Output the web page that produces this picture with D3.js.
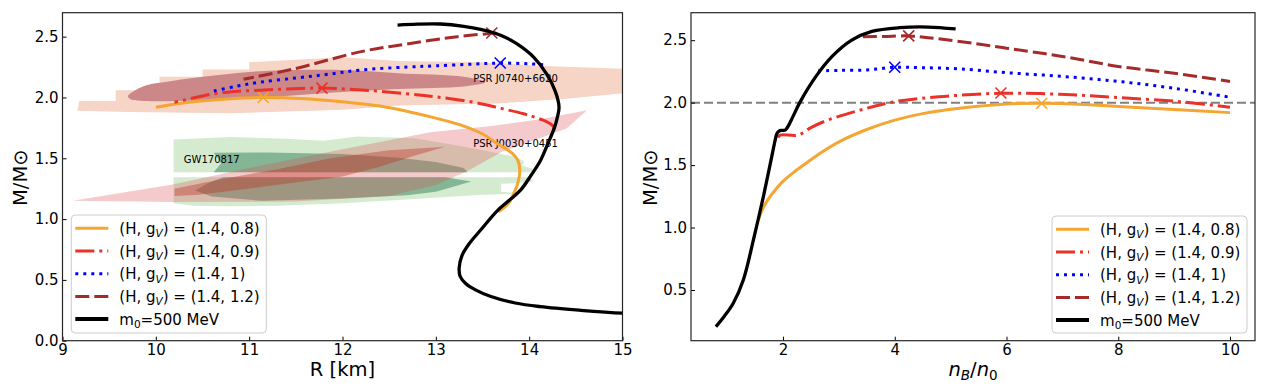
<!DOCTYPE html>
<html><head><meta charset="utf-8">
<script src="https://cdn.jsdelivr.net/npm/d3@7"></script>
<style>body{margin:0;background:#fff} svg{display:block} text{font-family:"DejaVu Sans",sans-serif}</style>
</head><body><svg id="c" width="1264" height="390"></svg>
<script>
// ---------------- DATA ----------------
// Left panel: mass-radius curves [R km, M/Msun]
const mrOrange = [[13.67,1.06],[13.78,1.13],[13.84,1.22],[13.88,1.30],[13.90,1.40],[13.88,1.48],[13.82,1.54],[13.66,1.62],[13.50,1.70],[13.30,1.765],[13.0,1.83],[12.7,1.885],[12.4,1.93],[12.0,1.965],[11.6,1.99],[11.15,2.0],[10.8,1.99],[10.4,1.965],[10.0,1.92]];
const mrRed = [[14.27,1.74],[14.25,1.77],[14.19,1.80],[14.05,1.84],[13.94,1.866],[13.7,1.91],[13.41,1.96],[13.0,2.005],[12.69,2.03],[12.2,2.062],[11.78,2.077],[11.4,2.07],[11.12,2.06],[10.85,2.05],[10.62,2.03],[10.2,1.96]];
const mrBlue = [[14.15,2.27],[14.0,2.277],[13.69,2.283],[13.41,2.275],[13.0,2.26],[12.69,2.25],[12.2,2.226],[11.84,2.19],[11.5,2.16],[11.12,2.126],[10.85,2.09],[10.6,2.05]];
const mrBrown = [[13.65,2.53],[13.6,2.527],[13.23,2.50],[12.69,2.44],[12.2,2.377],[11.48,2.235],[10.94,2.15]];
const mrBlack = [[12.59,2.595],[12.8,2.603],[13.05,2.604],[13.3,2.585],[13.48,2.56],[13.7,2.51],[13.87,2.44],[14.05,2.33],[14.19,2.19],[14.28,2.05],[14.32,1.92],[14.30,1.83],[14.27,1.75],[14.2,1.62],[14.12,1.48],[14.02,1.36],[13.91,1.24],[13.78,1.15],[13.66,1.07],[13.48,0.91],[13.36,0.80],[13.28,0.70],[13.25,0.60],[13.26,0.53],[13.32,0.47],[13.42,0.42],[13.59,0.363],[13.85,0.31],[14.12,0.28],[14.55,0.25],[15.0,0.226],[15.3,0.22]];
const mrPeaks = [[11.15,2.0],[11.78,2.077],[13.69,2.283],[13.6,2.53]];

// Right panel: mass vs central density [nB/n0, M/Msun]
const nOrange = [[1.56,1.06],[1.60,1.11],[1.66,1.17],[1.74,1.23],[1.85,1.295],[2.0,1.37],[2.2,1.445],[2.42,1.517],[2.7,1.605],[3.02,1.69],[3.5,1.785],[4.0,1.86],[4.5,1.912],[5.16,1.955],[6.0,1.99],[6.63,1.995],[7.2,1.99],[8.0,1.97],[9.0,1.945],[10.0,1.92]];
const nRed = [[1.91,1.72],[1.95,1.74],[2.27,1.74],[2.5,1.80],[2.8,1.86],[3.38,1.94],[4.0,2.008],[4.88,2.05],[5.9,2.075],[6.95,2.067],[8.0,2.04],[9.1,2.008],[10.0,1.963]];
const nBlue = [[2.63,2.255],[3.0,2.258],[3.5,2.262],[4.0,2.283],[4.5,2.28],[5.16,2.27],[6.0,2.24],[7.0,2.21],[8.0,2.17],[9.0,2.115],[10.0,2.043]];
const nBrown = [[3.43,2.528],[3.8,2.53],[4.25,2.534],[4.6,2.52],[5.16,2.49],[6.0,2.436],[7.0,2.37],[8.0,2.29],[9.0,2.235],[10.0,2.17]];
const nBlack = [[0.80,0.207],[0.95,0.29],[1.11,0.394],[1.29,0.58],[1.47,0.90],[1.65,1.25],[1.80,1.57],[1.86,1.70],[1.89,1.75],[1.93,1.772],[1.98,1.778],[2.04,1.78],[2.09,1.81],[2.18,1.89],[2.30,2.0],[2.59,2.21],[2.88,2.37],[3.23,2.50],[3.59,2.57],[4.09,2.60],[4.6,2.605],[5.09,2.59]];
const nPeaks = [[6.63,1.995],[5.9,2.077],[4.0,2.283],[4.25,2.534]];
const maxMassLine = 2.0;

// Observational constraint regions [R, M]
const j0740Outer = [[9.16,1.89],[9.18,1.97],[9.57,1.97],[9.57,2.06],[10.04,2.06],[10.04,2.17],[10.5,2.17],[10.5,2.23],[11.0,2.23],[11.0,2.29],[11.5,2.31],[12.0,2.33],[12.6,2.30],[13.5,2.29],[14.1,2.26],[15.2,2.23],[15.2,2.05],[14.4,1.99],[13.66,1.95],[12.6,1.934],[12.0,1.90],[10.8,1.87],[9.7,1.88]];
const j0740Inner = [[9.70,2.01],[9.78,2.06],[9.9,2.10],[10.04,2.12],[10.5,2.17],[11.0,2.21],[11.5,2.225],[12.0,2.225],[12.6,2.20],[13.3,2.17],[13.53,2.125],[13.3,2.09],[12.6,2.07],[12.0,2.045],[11.14,2.0],[10.43,1.975],[9.89,1.97],[9.73,1.985]];
const gwOuterUpper = [[10.19,1.385],[10.19,1.655],[10.8,1.675],[11.4,1.66],[11.8,1.645],[12.16,1.68],[12.77,1.665],[13.2,1.61],[13.48,1.57],[13.87,1.51],[13.95,1.47],[13.92,1.44],[14.05,1.41],[14.0,1.385]];
const gwOuterLower = [[10.19,1.345],[14.0,1.345],[14.05,1.31],[13.85,1.295],[13.7,1.29],[13.7,1.225],[13.93,1.21],[13.5,1.20],[12.77,1.165],[12.0,1.13],[11.3,1.11],[10.8,1.105],[10.4,1.11],[10.19,1.13]];
const gwInnerUpper = [[10.62,1.385],[10.70,1.46],[10.62,1.545],[11.2,1.548],[12.0,1.535],[12.6,1.505],[13.0,1.47],[13.3,1.42],[13.34,1.385]];
const gwInnerLower = [[10.42,1.235],[10.55,1.29],[10.72,1.345],[13.1,1.345],[13.38,1.31],[13.0,1.225],[12.69,1.197],[12.0,1.17],[11.14,1.15],[10.6,1.185]];
const j0030Outer = [[9.11,1.15],[10.18,1.285],[11.0,1.42],[12.0,1.575],[12.94,1.715],[13.6,1.765],[14.12,1.82],[14.62,1.895],[14.4,1.745],[13.7,1.55],[13.35,1.40],[13.0,1.28],[12.5,1.19],[11.5,1.145],[10.2,1.14]];
const j0030Inner = [[10.2,1.19],[10.2,1.25],[10.71,1.33],[11.3,1.41],[11.87,1.50],[12.5,1.565],[13.1,1.595],[12.77,1.52],[12.4,1.43],[12.0,1.35],[11.14,1.265],[10.46,1.20]];
const regionLabels = ["PSR J0740+6620","PSR J0030+0451","GW170817"];
const regionLabelPos = [[13.40,2.127],[13.40,1.593],[10.30,1.461]];

// Legend / ticks
const seriesValues = ["(1.4, 0.8)","(1.4, 0.9)","(1.4, 1)","(1.4, 1.2)"];
const blackLabel = ["m","0","=500 MeV"];
const xTicksL = [9,10,11,12,13,14,15];
const yTicksL = [0,0.5,1.0,1.5,2.0,2.5];
const xTicksR = [2,4,6,8,10];
const yTicksR = [0.5,1.0,1.5,2.0,2.5];

// ---------------- STYLE ----------------
const colors = ["#f5a531","#ec3228","#0000ff","#a52a2a","#000000"];
const dashes = [null,"19,5,3,5","3,5","14,5",null];
const widths = [3,3,3,3,3.3];

const svg = d3.select("#c");
const FS = 15;

const panels = [
  {x0:62.5,x1:622.5,y0:340.7,y1:12.7,xd:[9,15],yd:[0,2.697],xt:xTicksL,yt:yTicksL,xf:d3.format("d"),
   curves:[mrOrange,mrRed,mrBlue,mrBrown,mrBlack],peaks:mrPeaks,legend:[71.3,215,195,118],ylabX:27},
  {x0:691,x1:1255,y0:340.7,y1:12.7,xd:[0.354,10.447],yd:[0.094,2.72],xt:xTicksR,yt:yTicksR,xf:d3.format("d"),
   curves:[nOrange,nRed,nBlue,nBrown,nBlack],peaks:nPeaks,legend:[1052,216,195,117],ylabX:657}
];

panels.forEach((p,pi)=>{
  const x = d3.scaleLinear().domain(p.xd).range([p.x0,p.x1]);
  const y = d3.scaleLinear().domain(p.yd).range([p.y0,p.y1]);
  const cid = "clip"+pi;
  svg.append("clipPath").attr("id",cid).append("rect")
    .attr("x",p.x0).attr("y",p.y1).attr("width",p.x1-p.x0).attr("height",p.y0-p.y1);
  const g = svg.append("g").attr("clip-path",`url(#${cid})`);
  const poly = d3.line().x(d=>x(d[0])).y(d=>y(d[1])).curve(d3.curveLinearClosed);
  const curve = d3.line().x(d=>x(d[0])).y(d=>y(d[1])).curve(d3.curveCatmullRom.alpha(0.5));

  if(pi===0){
    g.append("path").attr("d",poly(j0740Outer)).attr("fill","#f6d4c6");
    g.append("path").attr("d",d3.line().x(d=>x(d[0])).y(d=>y(d[1])).curve(d3.curveCatmullRomClosed)(j0740Inner)).attr("fill","#cc8888");
    g.append("path").attr("d",poly(gwOuterUpper)).attr("fill","#d4ebd0");
    g.append("path").attr("d",poly(gwOuterLower)).attr("fill","#d4ebd0");
    g.append("path").attr("d",poly(gwInnerUpper)).attr("fill","#84b594");
    g.append("path").attr("d",poly(gwInnerLower)).attr("fill","#84b594");
    g.append("path").attr("d",poly(j0030Outer)).attr("fill","rgb(222,78,85)").attr("fill-opacity",0.3);
    g.append("path").attr("d",poly(j0030Inner)).attr("fill","rgb(190,45,35)").attr("fill-opacity",0.38);
    regionLabels.forEach((t,i)=>{
      g.append("text").attr("x",x(regionLabelPos[i][0])).attr("y",y(regionLabelPos[i][1]))
        .attr("font-size",10).attr("fill","#000").text(t);
    });
  } else {
    g.append("line").attr("x1",p.x0).attr("x2",p.x1).attr("y1",y(maxMassLine)).attr("y2",y(maxMassLine))
      .attr("stroke","#808080").attr("stroke-width",2).attr("stroke-dasharray","9,4");
  }

  p.curves.forEach((c,i)=>{
    g.append("path").attr("d",curve(c)).attr("fill","none").attr("stroke",colors[i])
      .attr("stroke-width",widths[i]).attr("stroke-dasharray",dashes[i]).attr("stroke-linejoin","round");
    if(i<4){
      const px=x(p.peaks[i][0]), py=y(p.peaks[i][1]), s=5.5;
      g.append("path").attr("d",`M${px-s},${py-s}L${px+s},${py+s}M${px-s},${py+s}L${px+s},${py-s}`)
        .attr("stroke",colors[i]).attr("stroke-width",1.6).attr("fill","none");
    }
  });

  // axes
  const ax = svg.append("g").attr("transform",`translate(0,${p.y0})`)
    .call(d3.axisBottom(x).tickValues(p.xt).tickFormat(p.xf).tickSize(-4).tickPadding(4));
  const ay = svg.append("g").attr("transform",`translate(${p.x0},0)`)
    .call(d3.axisLeft(y).tickValues(p.yt).tickFormat(d3.format(".1f")).tickSize(-4).tickPadding(4));
  [ax,ay].forEach(a=>{
    a.select(".domain").remove();
    a.attr("font-family",null).attr("font-size",null);
    a.selectAll("text").attr("font-size",FS).attr("fill","#000").style("font-family","DejaVu Sans");
    a.selectAll("line").attr("stroke","#000").attr("stroke-width",1);
  });
  svg.append("rect").attr("x",p.x0).attr("y",p.y1).attr("width",p.x1-p.x0).attr("height",p.y0-p.y1)
    .attr("fill","none").attr("stroke","#262626").attr("stroke-width",1.2);

  // y label
  svg.append("text").attr("transform",`translate(${p.ylabX},${(p.y0+p.y1)/2+1}) rotate(-90)`)
    .attr("text-anchor","middle").attr("font-size",19.5).text("M/M⊙");
  // x label
  const xl = svg.append("text").attr("x",(p.x0+p.x1)/2).attr("y",376).attr("text-anchor","middle").attr("font-size",19.5);
  if(pi===0){ xl.text("R [km]"); }
  else {
    xl.append("tspan").attr("font-style","italic").text("n");
    xl.append("tspan").attr("font-style","italic").attr("font-size",13.5).attr("dy",4).text("B");
    xl.append("tspan").attr("dy",-4).text("/");
    xl.append("tspan").attr("font-style","italic").text("n");
    xl.append("tspan").attr("font-size",13.5).attr("dy",4).text("0");
  }

  // legend
  const [lx,ly,lw,lh] = p.legend;
  svg.append("rect").attr("x",lx).attr("y",ly).attr("width",lw).attr("height",lh).attr("rx",4)
    .attr("fill","#fff").attr("fill-opacity",0.8).attr("stroke","#cccccc").attr("stroke-width",1);
  for(let i=0;i<5;i++){
    const cy = ly+13.3+i*22.7;
    svg.append("line").attr("x1",lx+4).attr("x2",lx+37).attr("y1",cy).attr("y2",cy)
      .attr("stroke",colors[i]).attr("stroke-width",i===4?4:widths[i]).attr("stroke-dasharray",dashes[i]);
    const t = svg.append("text").attr("x",lx+48).attr("y",cy+5.5).attr("font-size",FS);
    if(i<4){
      t.append("tspan").text("(H, g");
      t.append("tspan").attr("font-size",10.5).attr("font-style","italic").attr("dy",3.5).text("V");
      t.append("tspan").attr("dy",-3.5).text(") = "+seriesValues[i]);
    } else {
      t.append("tspan").text(blackLabel[0]);
      t.append("tspan").attr("font-size",10.5).attr("dy",3.5).text(blackLabel[1]);
      t.append("tspan").attr("dy",-3.5).text(blackLabel[2]);
    }
  }
});
</script></body></html>
